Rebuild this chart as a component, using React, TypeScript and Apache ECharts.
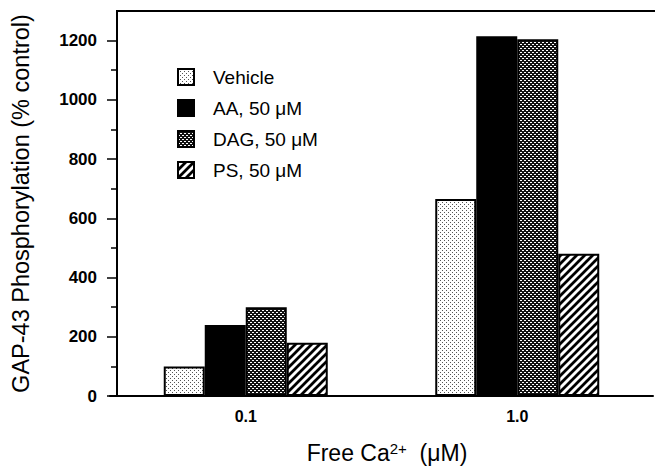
import React, { useEffect, useRef } from "react";
import * as echarts from "echarts";

const categories = ["0.1", "1.0"];
const seriesNames = ["Vehicle", "AA, 50 μM", "DAG, 50 μM", "PS, 50 μM"];
const vehicleValues = [100, 665];
const aaValues = [240, 1215];
const dagValues = [300, 1205];
const psValues = [180, 480];
const yMaxFrame = 1300;
const yMaxLabel = 1200;
const yInterval = 200;

const FONT = "Liberation Sans, Arial, Helvetica, sans-serif";

function makePattern(kind: string): any {
  const c = document.createElement("canvas");
  if (kind === "dots") {
    c.width = 4;
    c.height = 4;
    const ctx = c.getContext("2d")!;
    ctx.fillStyle = "#ffffff";
    ctx.fillRect(0, 0, 4, 4);
    ctx.fillStyle = "#555555";
    ctx.fillRect(0, 0, 1, 1);
    ctx.fillRect(2, 2, 1, 1);
  } else if (kind === "checker") {
    c.width = 4;
    c.height = 4;
    const ctx = c.getContext("2d")!;
    ctx.fillStyle = "#111111";
    ctx.fillRect(0, 0, 4, 4);
    ctx.fillStyle = "#ffffff";
    ctx.fillRect(0, 0, 2, 1);
    ctx.fillRect(2, 2, 2, 1);
  } else if (kind === "stripes") {
    c.width = 8;
    c.height = 8;
    const ctx = c.getContext("2d")!;
    ctx.fillStyle = "#ffffff";
    ctx.fillRect(0, 0, 8, 8);
    ctx.strokeStyle = "#000000";
    ctx.lineWidth = 2.8;
    ctx.beginPath();
    ctx.moveTo(-2, 10);
    ctx.lineTo(10, -2);
    ctx.moveTo(-2, 2);
    ctx.lineTo(2, -2);
    ctx.moveTo(6, 10);
    ctx.lineTo(10, 6);
    ctx.stroke();
  } else {
    c.width = 2;
    c.height = 2;
    const ctx = c.getContext("2d")!;
    ctx.fillStyle = "#000";
    ctx.fillRect(0, 0, 2, 2);
  }
  return { image: c, repeat: "repeat" };
}

export default function App() {
  const ref = useRef<HTMLDivElement>(null);

  useEffect(() => {
    if (!ref.current) return;
    const chart = echarts.init(ref.current, undefined, { renderer: "svg" });

    const plotTop = 11;
    const plotBottomY = 396;
    const pxPerUnit = (plotBottomY - plotTop) / yMaxFrame;
    const labelGridTop = plotBottomY - yMaxLabel * pxPerUnit;

    const fills = [
      makePattern("dots"),
      "#000000",
      makePattern("checker"),
      makePattern("stripes"),
    ];
    const valueSets = [vehicleValues, aaValues, dagValues, psValues];

    const series = seriesNames.map((name, i) => ({
      name,
      type: "bar",
      xAxisIndex: 0,
      yAxisIndex: 0,
      data: valueSets[i],
      barWidth: 41,
      barGap: "0%",
      itemStyle: {
        color: fills[i],
        borderColor: "#000",
        borderWidth: 2,
      },
    }));

    const option: any = {
      animation: false,
      backgroundColor: "#ffffff",
      textStyle: { fontFamily: FONT, color: "#000" },
      legend: {
        orient: "vertical",
        left: 177,
        top: 67.5,
        padding: 0,
        itemWidth: 16,
        itemHeight: 16,
        itemGap: 12,
        icon: "rect",
        selectedMode: false,
        data: seriesNames,
        itemStyle: { borderColor: "#000", borderWidth: 2 },
        textStyle: {
          fontFamily: FONT,
          fontSize: 19,
          lineHeight: 18,
          color: "#000",
          padding: [0, 0, 0, 14],
        },
      },
      grid: [
        { left: 110, right: 2, top: plotTop, bottom: 470 - plotBottomY },
        { left: 110, right: 2, top: labelGridTop, bottom: 470 - plotBottomY },
      ],
      xAxis: [
        {
          type: "category",
          gridIndex: 0,
          data: categories,
          axisLine: { lineStyle: { color: "#000", width: 2 } },
          axisTick: { show: false },
          axisLabel: {
            fontFamily: FONT,
            fontSize: 16,
            fontWeight: "bold",
            color: "#000",
            margin: 12,
          },
          name: "Free Ca{sup|2+}  (μM)",
          nameLocation: "middle",
          nameGap: 45,
          nameTextStyle: {
            fontFamily: FONT,
            fontSize: 23,
            color: "#000",
            padding: [0, 0, 0, 11],
            rich: {
              sup: {
                fontFamily: FONT,
                fontSize: 15,
                color: "#000",
                verticalAlign: "top",
                lineHeight: 15,
              },
            },
          },
        },
        {
          type: "category",
          gridIndex: 1,
          data: categories,
          show: false,
        },
      ],
      yAxis: [
        {
          type: "value",
          gridIndex: 0,
          min: 0,
          max: yMaxFrame,
          offset: -7,
          axisLine: { show: true, lineStyle: { color: "#000", width: 2 } },
          axisTick: { show: false },
          axisLabel: { show: false },
          splitLine: { show: false },
          name: "GAP-43 Phosphorylation (% control)",
          nameLocation: "middle",
          nameGap: 84,
          nameTextStyle: { fontFamily: FONT, fontSize: 23.5, color: "#000" },
        },
        {
          type: "value",
          gridIndex: 1,
          min: 0,
          max: yMaxLabel,
          interval: yInterval,
          offset: -7,
          axisLine: { show: false },
          axisTick: {
            show: true,
            inside: false,
            length: 10,
            lineStyle: { color: "#000", width: 1.5 },
          },
          minorTick: {
            show: true,
            splitNumber: 2,
            length: 6,
            lineStyle: { color: "#000", width: 1.5 },
          },
          axisLabel: {
            fontFamily: FONT,
            fontSize: 17,
            fontWeight: "bold",
            color: "#000",
            margin: 20,
            formatter: (v: number) => String(v),
          },
          splitLine: { show: false },
        },
      ],
      graphic: [
        {
          type: "line",
          shape: { x1: 116, y1: plotTop, x2: 655, y2: plotTop },
          style: { stroke: "#000", lineWidth: 2 },
          z: 10,
        },
      ],
      series,
    };

    chart.setOption(option);
    return () => {
      chart.dispose();
    };
  }, []);

  return (
    <div
      ref={ref}
      style={{ position: "fixed", left: 0, top: 0, width: 655, height: 470, background: "#fff" }}
    />
  );
}
